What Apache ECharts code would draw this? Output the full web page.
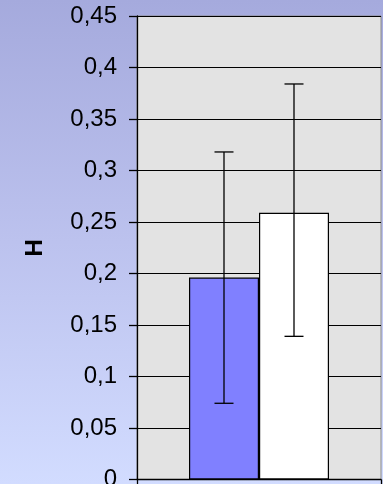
<!DOCTYPE html>
<html>
<head>
<meta charset="utf-8">
<style>
  html, body { margin: 0; padding: 0; }
  #chart { width: 383px; height: 484px; background: linear-gradient(to bottom, #A5AADD, #BCC2EE 50%, #D2DCFF); }
</style>
<script src="https://cdn.jsdelivr.net/npm/echarts@6/dist/echarts.min.js"></script>
</head>
<body>
<div id="chart"></div>
<script>
// data
var categories = [''];
var seriesNames = ['A', 'B'];
var means = [0.196, 0.259];
var errLow = [0.074, 0.139];
var errHigh = [0.318, 0.384];
var colors = ['#8080FF', '#FFFFFF'];

var barW = 70;

var myChart = echarts.init(document.getElementById('chart'));

var series = [];
for (var i = 0; i < means.length; i++) {
    series.push({
        name: seriesNames[i],
        type: 'bar',
        barWidth: barW,
        barGap: '0%',
        data: [means[i]],
        itemStyle: { color: colors[i], borderColor: '#000', borderWidth: 1.2 },
        z: 2
    });
}
// error bars
var errData = [];
for (var i = 0; i < means.length; i++) {
    errData.push([0, errLow[i], errHigh[i], i]);
}
series.push({
    type: 'custom',
    data: errData,
    z: 5,
    renderItem: function (params, api) {
        var k = api.value(3);
        var off = (k - (means.length - 1) / 2) * barW;
        var lo = api.coord([api.value(0), api.value(1)]);
        var hi = api.coord([api.value(0), api.value(2)]);
        var x = lo[0] + off;
        var cap = 9.5;
        var st = { stroke: '#000', lineWidth: 1.3 };
        return {
            type: 'group',
            children: [
                { type: 'line', shape: { x1: x, y1: lo[1], x2: x, y2: hi[1] }, style: st },
                { type: 'line', shape: { x1: x - cap, y1: lo[1], x2: x + cap, y2: lo[1] }, style: st },
                { type: 'line', shape: { x1: x - cap, y1: hi[1], x2: x + cap, y2: hi[1] }, style: st }
            ]
        };
    }
});

var option = {
    animation: false,
    grid: {
        left: 137, right: 2, top: 16, bottom: 4.5,
        outerBoundsMode: 'none',
        containLabel: false,
        show: true, backgroundColor: '#E3E3E3', borderColor: '#8A8A8A', borderWidth: 1
    },
    xAxis: {
        type: 'category',
        data: categories,
        axisLine: { lineStyle: { color: '#000', width: 1.3 } },
        axisTick: { show: true, alignWithLabel: false, length: 5, lineStyle: { color: '#000', width: 1.3 } },
        axisLabel: { show: false }
    },
    yAxis: {
        type: 'value',
        min: 0, max: 0.45, interval: 0.05,
        name: 'H',
        nameLocation: 'middle',
        nameGap: 90,
        nameRotate: 90,
        nameTextStyle: { fontFamily: 'Liberation Sans', fontSize: 24, fontWeight: 'bold', color: '#000' },
        axisLine: { show: true, lineStyle: { color: '#000', width: 1.3 } },
        axisTick: { show: true, length: 8, lineStyle: { color: '#000', width: 1.3 } },
        axisLabel: {
            margin: 20,
            fontFamily: 'Liberation Sans', fontSize: 24, color: '#000',
            formatter: function (v) { return String(Math.round(v * 100) / 100).replace('.', ','); }
        },
        splitLine: { lineStyle: { color: '#000', width: 1.2 } }
    },
    series: series
};
myChart.setOption(option);
</script>
</body>
</html>
